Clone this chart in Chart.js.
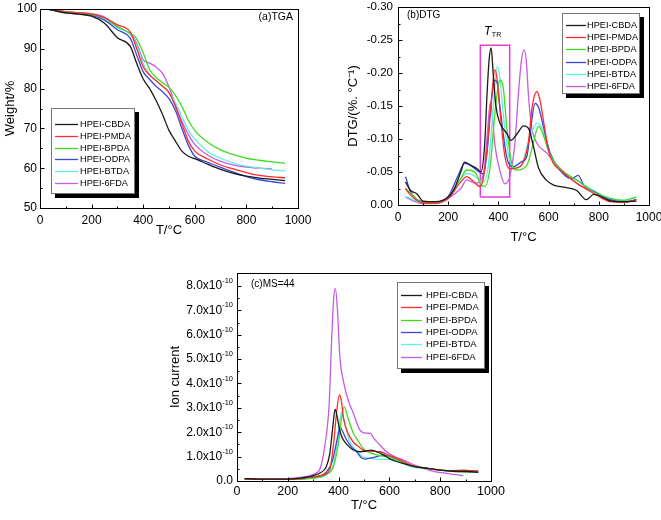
<!DOCTYPE html>
<html><head><meta charset="utf-8">
<script src="https://cdn.jsdelivr.net/npm/chart.js@4.4.1/dist/chart.umd.min.js"></script>
<style>
html,body{margin:0;padding:0;background:#fff;}
body{width:661px;height:520px;position:relative;overflow:hidden;}
canvas{position:absolute;}
</style></head>
<body>
<canvas id="ca" width="330" height="245" style="left:0;top:0;z-index:1"></canvas>
<canvas id="cb" width="331" height="245" style="left:330px;top:0;z-index:1"></canvas>
<canvas id="cc" width="661" height="275" style="left:0;top:245px;z-index:5"></canvas>
<script>
// ---------------- DATA ----------------
const seriesNames = ['HPEI-CBDA','HPEI-PMDA','HPEI-BPDA','HPEI-ODPA','HPEI-BTDA','HPEI-6FDA'];
const seriesColors = ['#1a1a1a','#ff2a2a','#3fdc1e','#3a46d8','#5ff0e0','#c85ae8'];

// (a) TGA, weight %
const tgaT = [30,100,150,200,250,300,350,375,400,425,450,475,500,525,550,575,600,650,700,750,800,850,900,950];
const tga_CBDA = [100,99.0,98.7,98.2,96.4,92.8,90.6,86.3,82.4,80.0,77.0,73.5,69.5,66.8,64.3,63.0,62.4,61.0,59.7,58.7,58.0,57.5,57.2,56.9];
const tga_PMDA = [100,99.3,99.1,98.8,97.8,96.0,94.2,90.0,85.5,83.4,82.0,80.6,79.0,75.5,71.2,66.8,64.3,62.3,60.8,59.8,58.9,58.2,57.8,57.6];
const tga_BPDA = [100,99.3,99.0,98.6,97.8,95.5,93.9,92.5,89.0,84.8,82.8,81.5,80.3,78.3,75.5,72.0,69.5,66.5,64.6,63.4,62.5,62.0,61.6,61.2];
const tga_ODPA = [100,99.0,98.8,98.4,97.2,94.8,92.6,88.4,84.2,82.3,80.6,79.2,77.5,74.5,70.0,65.8,63.0,61.5,60.2,59.0,57.9,57.1,56.6,56.2];
const tga_BTDA = [100,99.2,99.0,98.6,97.6,95.3,93.6,90.8,86.3,83.6,82.0,80.6,79.0,76.5,73.0,69.5,67.3,64.2,62.5,61.3,60.5,60.0,59.6,59.3];
const tga_6FDA = [100,99.3,99.1,98.8,98.0,95.6,93.7,91.4,87.2,86.4,85.4,83.8,80.4,75.9,71.8,68.5,66.0,63.3,61.7,60.8,60.3,60.0,59.8,null];
const tgaYTicks = {min:50, max:100, step:10};

// (b) DTG, %/°C
const dtgT_CBDA = [30,50,75,100,150,200,225,250,265,290,315,330,345,355,363,371,380,390,406,433,450,475,500,520,540,560,590,620,660,712,750,780,850,900,950];
const dtg_CBDA = [-0.035,-0.022,-0.017,-0.006,-0.005,-0.012,-0.025,-0.050,-0.065,-0.060,-0.055,-0.050,-0.090,-0.170,-0.220,-0.238,-0.195,-0.150,-0.124,-0.109,-0.098,-0.108,-0.120,-0.116,-0.088,-0.056,-0.038,-0.030,-0.027,-0.022,-0.008,-0.016,-0.006,-0.005,-0.006];
const dtgT_PMDA = [30,50,100,150,200,250,274,300,327,340,355,373,386,395,406,426,446,486,519,535,553,565,579,599,619,650,712,778,845,900,950];
const dtg_PMDA = [-0.025,-0.015,-0.003,-0.003,-0.010,-0.035,-0.043,-0.036,-0.028,-0.040,-0.085,-0.164,-0.205,-0.190,-0.144,-0.073,-0.055,-0.058,-0.094,-0.150,-0.172,-0.160,-0.129,-0.083,-0.063,-0.052,-0.033,-0.018,-0.005,-0.004,-0.008];
const dtgT_BPDA = [30,50,100,150,200,250,274,306,333,346,367,386,399,406,419,433,453,473,513,540,559,575,599,632,680,712,778,845,900,950];
const dtg_BPDA = [-0.025,-0.018,-0.003,-0.003,-0.012,-0.040,-0.053,-0.050,-0.030,-0.028,-0.058,-0.139,-0.180,-0.189,-0.179,-0.119,-0.063,-0.053,-0.060,-0.095,-0.119,-0.110,-0.083,-0.060,-0.045,-0.038,-0.020,-0.010,-0.007,-0.012];
const dtgT_ODPA = [30,50,100,150,200,240,265,290,313,340,355,370,386,395,406,433,460,490,513,530,546,560,579,606,645,690,718,740,778,845,900,950];
const dtg_ODPA = [-0.043,-0.020,-0.005,-0.004,-0.013,-0.045,-0.063,-0.060,-0.053,-0.047,-0.080,-0.150,-0.189,-0.185,-0.150,-0.073,-0.058,-0.065,-0.073,-0.120,-0.154,-0.148,-0.119,-0.079,-0.053,-0.040,-0.045,-0.030,-0.021,-0.008,-0.005,-0.008];
const dtgT_BTDA = [30,50,100,150,200,250,275,300,340,360,380,395,405,419,439,460,490,519,553,575,592,632,680,720,778,845,900,950];
const dtg_BTDA = [-0.013,-0.010,-0.003,-0.003,-0.012,-0.040,-0.048,-0.045,-0.035,-0.060,-0.150,-0.210,-0.195,-0.139,-0.078,-0.056,-0.060,-0.094,-0.124,-0.115,-0.094,-0.058,-0.045,-0.035,-0.022,-0.010,-0.007,-0.012];
const dtgT_6FDA = [30,50,100,150,200,250,274,306,333,345,355,368,377,386,406,426,446,466,480,492,503,512,519,532,553,592,632,712,778,845,900];
const dtg_6FDA = [-0.012,-0.008,-0.002,-0.002,-0.010,-0.025,-0.038,-0.033,-0.038,-0.060,-0.103,-0.155,-0.130,-0.091,-0.052,-0.032,-0.044,-0.095,-0.170,-0.220,-0.235,-0.215,-0.170,-0.119,-0.094,-0.079,-0.061,-0.033,-0.021,-0.008,-0.005];
const dtgYTicks = {min:-0.30, max:0, step:0.05};
const ttrRangeT = [328, 445];
const ttrRangeV = [-0.012, -0.242];
const ttrLabelT = 372, ttrLabelV = -0.263;

// (c) MS=44 ion current, in units of 1e-10
const msT_CBDA = [30,100,200,250,300,330,350,365,377,386,395,405,419,440,458,484,505,530,555,576,600,628,660,694,750,800,850,900,950];
const ms_CBDA = [0.10,0.08,0.08,0.12,0.22,0.35,0.55,1.10,2.20,2.95,2.60,2.05,1.68,1.42,1.27,1.20,1.22,1.27,1.18,1.07,0.92,0.80,0.70,0.60,0.52,0.45,0.40,0.40,0.35];
const msT_PMDA = [30,100,200,250,300,340,366,380,392,403,410,419,435,458,480,497,530,563,600,628,660,694,750,800,850,890,950];
const ms_PMDA = [0.08,0.07,0.07,0.10,0.18,0.25,0.50,1.50,2.80,3.53,3.35,2.60,2.00,1.60,1.40,1.27,1.22,1.20,1.05,0.94,0.78,0.62,0.52,0.45,0.42,0.45,0.40];
const msT_BPDA = [30,100,200,300,350,380,400,412,422,435,458,480,497,525,550,575,602,642,680,750,800,850,900,950];
const ms_BPDA = [0.08,0.07,0.07,0.12,0.25,0.60,1.60,2.60,3.05,2.65,1.96,1.60,1.33,1.15,1.07,1.02,0.98,0.80,0.65,0.52,0.45,0.40,0.36,0.40];
const msT_ODPA = [30,100,200,300,350,375,390,400,406,415,432,450,471,491,505,524,550,576,600,615,650,694,750,800,850,900,950];
const ms_ODPA = [0.08,0.07,0.07,0.15,0.35,0.80,1.50,2.00,2.20,2.05,1.68,1.40,1.20,0.94,0.90,0.94,1.00,1.07,1.00,0.94,0.78,0.62,0.52,0.45,0.40,0.38,0.35];
const msT_BTDA = [30,100,200,300,350,380,395,405,412,420,445,470,497,530,563,590,615,650,681,750,800,850,900,950];
const ms_BTDA = [0.08,0.07,0.07,0.12,0.28,0.70,1.60,2.50,2.85,2.55,1.60,1.25,0.98,0.92,0.89,0.89,0.89,0.75,0.60,0.50,0.45,0.40,0.40,0.45];
const msT_6FDA = [30,100,200,250,280,310,327,345,363,373,380,387,395,405,419,440,458,484,511,525,537,560,589,620,655,707,760,825,891];
const ms_6FDA = [0.10,0.09,0.10,0.15,0.20,0.32,0.50,1.40,3.19,5.90,7.40,7.90,7.10,5.10,4.10,3.25,2.78,2.09,1.96,1.95,1.78,1.50,1.20,1.00,0.86,0.62,0.43,0.31,0.22];
const msYTicks = {min:0, max:8.53, step:1, labelMax:8};

const xTicks = {min:0, max:1000, step:200, minor:100};

// ---------------- HELPERS ----------------
const FONT = "'Liberation Sans', Arial, Helvetica, sans-serif";
const pts = (T, V) => T.map((t, i) => ({x: t, y: V[i]}));
function seriesSets(list) {
  return list.map((p, i) => ({
    label: seriesNames[i], data: pts(p[0], p[1]),
    borderColor: seriesColors[i], borderWidth: 1.3, pointRadius: 0,
    cubicInterpolationMode: 'monotone', fill: false, spanGaps: false
  }));
}

function framePlugin(cfg) {
  return {
    id: 'frame_' + cfg.id,
    afterDatasetsDraw(chart) {
      const {ctx, chartArea: a, scales: {x, y}} = chart;
      ctx.save();
      ctx.strokeStyle = '#000'; ctx.lineWidth = 1;
      const L = Math.round(a.left) + 0.5, T = Math.round(a.top) + 0.5;
      const R = Math.round(a.right) + 0.5, B = Math.round(a.bottom) + 0.5;
      ctx.strokeRect(L, T, R - L, B - T);
      ctx.beginPath();
      for (let v = xTicks.min; v <= xTicks.max + 1e-9; v += xTicks.minor) {
        const px = Math.round(x.getPixelForValue(v)) + 0.5;
        const major = Math.abs(v / xTicks.step - Math.round(v / xTicks.step)) < 1e-6;
        ctx.moveTo(px, B); ctx.lineTo(px, B - (major ? 4 : 2));
      }
      const yt = cfg.yTicks;
      const lim = yt.labelMax !== undefined ? yt.labelMax : yt.max;
      const n = Math.round((lim - yt.min) / (yt.step / 2));
      for (let k = 0; k <= n; k++) {
        const v = yt.min + k * yt.step / 2;
        const py = Math.round(y.getPixelForValue(v)) + 0.5;
        ctx.moveTo(L, py); ctx.lineTo(L + (k % 2 === 0 ? 4 : 2), py);
      }
      ctx.stroke();
      ctx.restore();
    },
    afterDraw(chart) {
      const {ctx} = chart;
      ctx.save();
      const g = cfg.legend;
      ctx.fillStyle = '#000';
      ctx.fillRect(g.x + 4, g.y + 4, g.w, g.h);
      ctx.fillStyle = '#fff';
      ctx.fillRect(g.x, g.y, g.w, g.h);
      ctx.strokeStyle = '#777'; ctx.lineWidth = 1;
      ctx.strokeRect(g.x + 0.5, g.y + 0.5, g.w - 1, g.h - 1);
      ctx.font = g.font + 'px ' + FONT;
      ctx.textBaseline = 'middle'; ctx.textAlign = 'left';
      seriesNames.forEach((nm, i) => {
        const yy = Math.round(g.row0 + i * g.dy) + 0.5;
        ctx.strokeStyle = seriesColors[i]; ctx.lineWidth = 1.3;
        ctx.beginPath(); ctx.moveTo(g.lx0, yy); ctx.lineTo(g.lx1, yy); ctx.stroke();
        ctx.fillStyle = '#000';
        ctx.fillText(nm, g.tx, yy);
      });
      if (cfg.extra) cfg.extra(chart, ctx);
      ctx.restore();
    }
  };
}

function makeChart(id, cfg) {
  return new Chart(document.getElementById(id), {
    type: 'line',
    data: {datasets: cfg.datasets},
    options: {
      responsive: false, animation: false, devicePixelRatio: 1,
      layout: {padding: cfg.padding},
      plugins: {legend: {display: false}, tooltip: {enabled: false}},
      elements: {point: {radius: 0}},
      scales: {
        x: {
          type: 'linear', min: xTicks.min, max: xTicks.max,
          grid: {display: false, drawTicks: false}, border: {display: false},
          ticks: {stepSize: xTicks.step, autoSkip: false, maxRotation: 0, color: '#000',
                  font: {family: FONT, size: cfg.xFont}, padding: cfg.xPad,
                  callback: v => String(v)},
          title: {display: true, text: 'T/°C', color: '#000',
                  font: {family: FONT, size: 13, lineHeight: 1}, padding: {top: 0, bottom: cfg.xTitlePad}},
          afterFit(s) { s.height = cfg.xH; s.paddingLeft = 0; s.paddingRight = 0; }
        },
        y: {
          type: 'linear', min: cfg.yTicks.min, max: cfg.yTicks.max, reverse: !!cfg.reverse,
          grid: {display: false, drawTicks: false}, border: {display: false},
          ticks: {stepSize: cfg.yTicks.step, autoSkip: false, color: cfg.hideYLabels ? 'rgba(0,0,0,0)' : '#000',
                  font: {family: FONT, size: cfg.yFont}, padding: cfg.yPad,
                  callback: cfg.yFmt},
          title: {display: true, text: cfg.yTitle, color: '#000',
                  font: {family: FONT, size: 13, lineHeight: 1}, padding: {top: cfg.yTitlePad, bottom: 0}},
          afterFit(s) { s.width = cfg.yW; s.paddingTop = 0; s.paddingBottom = 0; }
        }
      }
    },
    plugins: [framePlugin(cfg)]
  });
}

// ---------------- (a) TGA ----------------
makeChart('ca', {
  id: 'a',
  datasets: seriesSets([[tgaT, tga_CBDA],[tgaT, tga_PMDA],[tgaT, tga_BPDA],[tgaT, tga_ODPA],[tgaT, tga_BTDA],[tgaT, tga_6FDA]]),
  padding: {left: 0, top: 9, right: 32, bottom: 0},
  yW: 40, xH: 37, xFont: 12, yFont: 12, xPad: 5, yPad: 3, xTitlePad: 8, yTitlePad: 3.5,
  yTicks: tgaYTicks, yTitle: 'Weight/%',
  yFmt: v => String(v),
  legend: {x: 51, y: 108, w: 84, h: 86, row0: 124, dy: 11.8, lx0: 55, lx1: 78, tx: 80, font: 9.2},
  extra(chart, ctx) {
    const a = chart.chartArea;
    ctx.fillStyle = '#000'; ctx.font = '10.5px ' + FONT;
    ctx.textAlign = 'right'; ctx.textBaseline = 'middle';
    ctx.fillText('(a)TGA', a.right - 5, a.top + 8);
  }
});

// ---------------- (b) DTG ----------------
const ttrBox = [
  {x: ttrRangeT[0], y: ttrRangeV[0]}, {x: ttrRangeT[1], y: ttrRangeV[0]},
  {x: ttrRangeT[1], y: ttrRangeV[1]}, {x: ttrRangeT[0], y: ttrRangeV[1]},
  {x: ttrRangeT[0], y: ttrRangeV[0]}
];
makeChart('cb', {
  id: 'b',
  datasets: seriesSets([[dtgT_CBDA, dtg_CBDA],[dtgT_PMDA, dtg_PMDA],[dtgT_BPDA, dtg_BPDA],[dtgT_ODPA, dtg_ODPA],[dtgT_BTDA, dtg_BTDA],[dtgT_6FDA, dtg_6FDA]])
    .concat([{label: 'TTR', data: ttrBox, borderColor: '#e83cd0', borderWidth: 1.5, pointRadius: 0, tension: 0, fill: false}]),
  padding: {left: 0, top: 7, right: 12, bottom: 0},
  yW: 68, xH: 40, xFont: 12, yFont: 11.5, xPad: 5, yPad: 5, xTitlePad: 1, yTitlePad: 17,
  yTicks: dtgYTicks, reverse: true, yTitle: 'DTG/(%. °C⁻¹)',
  yFmt: v => (Math.abs(v) < 1e-9 ? 0 : v).toFixed(2),
  legend: {x: 232, y: 13, w: 78, h: 81, row0: 25, dy: 12.2, lx0: 236, lx1: 256, tx: 257, font: 9.2},
  extra(chart, ctx) {
    const a = chart.chartArea, {x, y} = chart.scales;
    ctx.fillStyle = '#000'; ctx.font = '10px ' + FONT;
    ctx.textAlign = 'left'; ctx.textBaseline = 'middle';
    ctx.fillText('(b)DTG', a.left + 9, a.top + 8);
    const px = x.getPixelForValue(ttrLabelT), py = y.getPixelForValue(ttrLabelV);
    ctx.font = 'italic 12px ' + FONT; ctx.textAlign = 'right';
    ctx.fillText('T', px, py);
    ctx.font = '7px ' + FONT; ctx.textAlign = 'left';
    ctx.fillText('TR', px + 0.5, py + 4);
  }
});

// ---------------- (c) MS=44 ----------------
makeChart('cc', {
  id: 'c',
  datasets: seriesSets([[msT_CBDA, ms_CBDA],[msT_PMDA, ms_PMDA],[msT_BPDA, ms_BPDA],[msT_ODPA, ms_ODPA],[msT_BTDA, ms_BTDA],[msT_6FDA, ms_6FDA]]),
  padding: {left: 160, top: 28, right: 170, bottom: 0},
  yW: 77, xH: 39, xFont: 12.5, yFont: 12, xPad: 3, yPad: 4, xTitlePad: 8, yTitlePad: 8.5,
  yTicks: msYTicks, yTitle: 'Ion current', hideYLabels: true,
  yFmt: v => String(v),
  legend: {x: 397, y: 37, w: 88, h: 87, row0: 50, dy: 12.3, lx0: 401, lx1: 422, tx: 426, font: 9.5},
  extra(chart, ctx) {
    const a = chart.chartArea, {y} = chart.scales;
    ctx.fillStyle = '#000'; ctx.textBaseline = 'middle';
    ctx.font = '10px ' + FONT; ctx.textAlign = 'left';
    ctx.fillText('(c)MS=44', a.left + 14, a.top + 11);
    const right = a.left - 4;
    for (let v = msYTicks.min; v <= msYTicks.labelMax + 1e-9; v += msYTicks.step) {
      const py = y.getPixelForValue(v);
      ctx.textAlign = 'right';
      if (v === 0) {
        ctx.font = '12px ' + FONT; ctx.fillText('0.0', right, py);
      } else {
        ctx.font = '7.5px ' + FONT;
        const sup = '-10', sw = ctx.measureText(sup).width;
        ctx.fillText(sup, right, py - 5);
        ctx.font = '12px ' + FONT;
        ctx.fillText(v.toFixed(1) + 'x10', right - sw, py);
      }
    }
  }
});
</script>
</body></html>
